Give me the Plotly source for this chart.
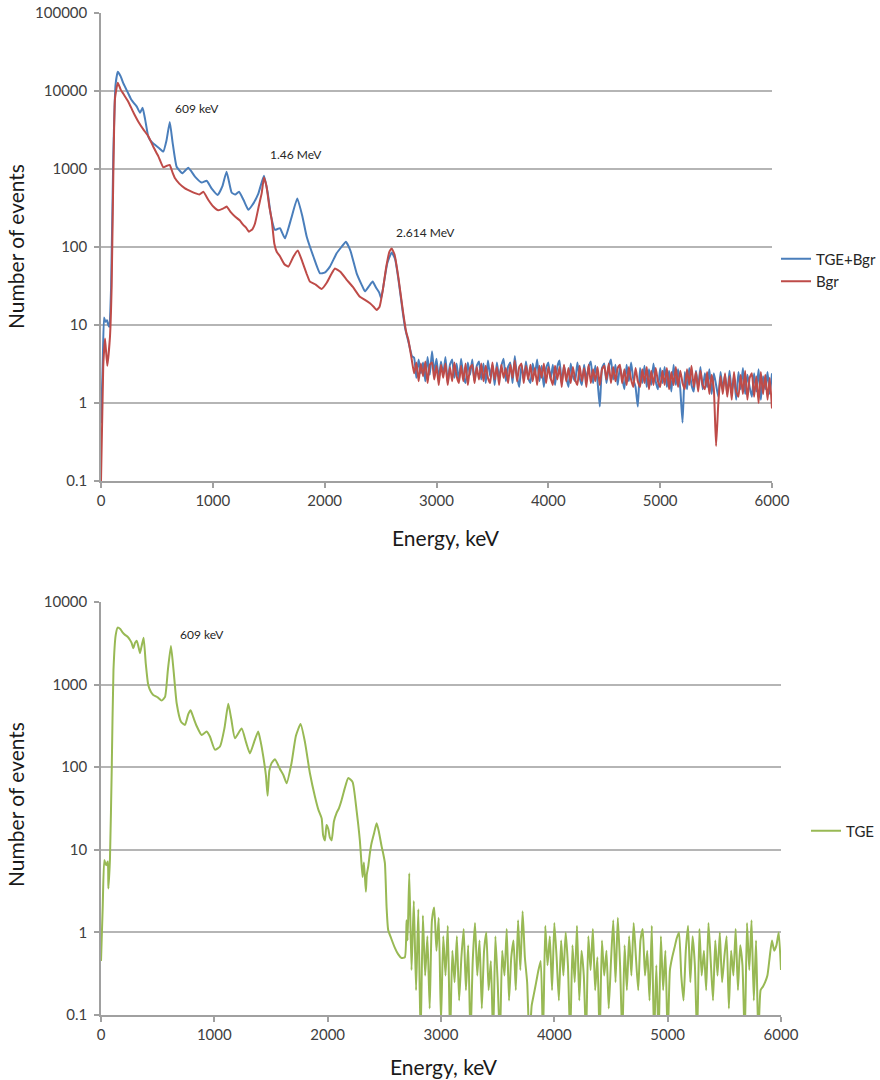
import math
import plotly.graph_objects as go

# ---------------- data ----------------
# Top panel: TGE+Bgr (blue) main part
blue_e = [0, 15, 27, 40, 54, 65, 75, 90, 110, 130, 150, 175, 200, 244, 270, 298, 320, 349, 372, 395,
          423, 450, 483, 520, 557, 585, 615, 640, 676, 727, 781, 840, 900, 945, 990, 1043, 1085, 1123,
          1168, 1200, 1234, 1275, 1317, 1350, 1406, 1457, 1490, 1520, 1556, 1600, 1645, 1700, 1755,
          1800, 1839, 1900, 1958, 2000, 2047, 2107, 2150, 2190, 2230, 2286, 2330, 2360, 2400, 2429,
          2460, 2488, 2505, 2530, 2560, 2599, 2630, 2660, 2700, 2720, 2750, 2780]
blue_v = [0.55, 3, 12.5, 11, 11.5, 10, 9.5, 30, 1500, 12000, 17700, 15500, 12500, 9300, 7800, 6900, 6300,
          5250, 6100, 4300, 2600, 2250, 2040, 1850, 1670, 2300, 4000, 2200, 1070, 880, 1040, 800, 670,
          707, 560, 465, 600, 925, 500, 470, 510, 400, 300, 340, 480, 820, 500, 250, 166, 174, 129, 230,
          420, 250, 136, 75, 46, 47, 56, 83, 100, 117, 90, 46, 33, 27, 32, 36, 30, 26, 22, 35, 62, 85,
          70, 38, 14, 9, 6, 4]

# Top panel: Bgr (red) main part
red_e = [0, 20, 36, 56, 80, 95, 110, 125, 150, 175, 200, 244, 290, 334, 380, 423, 470, 513, 557, 590,
         614, 640, 662, 700, 751, 800, 840, 880, 915, 960, 1004, 1049, 1090, 1123, 1160, 1198, 1240,
         1272, 1300, 1323, 1355, 1377, 1410, 1437, 1457, 1480, 1505, 1526, 1550, 1571, 1600, 1640,
         1675, 1720, 1760, 1800, 1840, 1868, 1920, 1973, 2020, 2060, 2092, 2140, 2197, 2250, 2315,
         2360, 2405, 2440, 2464, 2490, 2520, 2550, 2580, 2599, 2625, 2660, 2703, 2730, 2748, 2780]
red_v = [0.1, 3, 6.7, 3, 7, 30, 800, 8000, 12800, 10500, 9200, 7300, 5300, 4040, 3200, 2630, 1900, 1450,
         1050, 1100, 1130, 900, 760, 650, 565, 520, 490, 470, 510, 400, 330, 295, 310, 330, 280, 246, 220,
         192, 175, 157, 170, 200, 330, 490, 780, 600, 330, 225, 110, 87, 76, 60, 56, 75, 90, 65, 45, 36,
         33, 29, 35, 45, 53, 48, 38, 31, 23, 21, 19, 17, 15.6, 17, 28, 55, 88, 96, 80, 40, 14, 8, 6.5, 3.5]

# Top panel noisy tail, energies 2800..6000 keV every 20 keV
tail_e = list(range(2800, 6001, 20))
blue_tail = [3.8, 2.1, 3.6, 2.4, 3.3, 1.9, 3.9, 2.3, 4.6, 2.5, 3.7,
             2.0, 3.4, 2.3, 3.9, 1.8, 3.1, 3.6, 2.1, 3.2, 1.9,
             3.7, 2.2, 1.8, 3.3, 2.3, 3.6, 1.9, 3.0, 3.4, 2.0,
             3.2, 1.8, 3.5, 2.2, 3.1, 1.7, 3.3, 2.1, 3.0, 3.7,
             1.9, 2.9, 3.3, 1.8, 4.0, 2.2, 1.6, 3.1, 2.0, 3.4,
             2.1, 1.8, 3.2, 2.3, 3.6, 1.9, 3.0, 1.6, 2.8, 3.3,
             2.0, 3.1, 1.7, 2.9, 3.5, 1.8, 3.0, 2.1, 1.6, 3.2,
             2.2, 1.9, 3.3, 2.1, 1.7, 3.1, 2.0, 2.9, 3.4, 1.8,
             3.0, 1.9, 0.9, 2.8, 3.2, 1.8, 2.9, 3.6, 2.0, 3.1,
             1.7, 2.9, 2.1, 1.5, 3.1, 1.9, 3.3, 2.0, 1.6, 0.9,
             2.8, 1.8, 3.0, 1.6, 2.7, 1.7, 3.2, 1.9, 1.5, 2.8,
             1.8, 2.9, 1.6, 2.6, 1.4, 3.1, 1.7, 2.7, 1.5, 0.56,
             2.5, 1.5, 2.8, 1.7, 1.4, 2.6, 1.6, 2.9, 1.5, 2.4,
             1.6, 2.7, 1.3, 2.4, 1.7, 1.2, 2.5, 1.5, 2.3, 1.3,
             2.6, 1.4, 2.2, 1.1, 2.5, 1.5, 2.8, 1.3, 2.3, 1.6,
             1.2, 2.4, 1.4, 2.7, 1.1, 2.2, 1.5, 2.5, 1.3, 2.4]
red_tail = [2.4, 3.3, 1.9, 3.2, 2.2, 3.4, 1.8, 3.1, 3.3, 2.0, 3.0,
            1.7, 3.1, 2.1, 3.2, 1.7, 2.9, 1.9, 3.3, 2.2, 1.8,
            3.0, 1.9, 3.2, 1.7, 2.8, 3.1, 1.8, 2.9, 2.0, 3.2,
            1.9, 3.0, 2.1, 1.8, 3.3, 2.0, 2.9, 1.7, 3.1, 2.1,
            2.8, 1.8, 3.1, 2.1, 3.5, 1.9, 2.9, 3.2, 1.8, 3.0,
            2.0, 3.1, 1.9, 2.8, 1.7, 3.0, 2.1, 3.2, 1.8, 2.9,
            2.1, 1.7, 3.0, 2.0, 2.9, 1.6, 3.1, 1.9, 2.8, 1.8,
            2.9, 2.0, 1.7, 3.0, 1.9, 2.8, 1.6, 3.1, 1.8, 2.7,
            1.9, 2.9, 1.7, 2.7, 3.0, 2.0, 3.2, 1.8, 2.9, 1.9,
            2.8, 3.1, 1.8, 2.7, 1.7, 2.9, 2.0, 1.6, 2.8, 1.9,
            1.6, 2.7, 1.8, 2.9, 1.5, 2.6, 1.7, 2.8, 1.9, 1.6,
            2.6, 1.7, 2.8, 1.5, 2.5, 1.7, 2.9, 1.6, 2.6, 1.8,
            1.5, 2.7, 1.7, 3.0, 1.6, 2.5, 1.4, 2.6, 1.7, 1.5,
            2.5, 1.3, 2.3, 1.5, 0.28, 1.0, 2.2, 1.3, 2.4, 1.2,
            2.2, 1.1, 2.5, 1.4, 1.2, 2.3, 1.3, 2.6, 1.1, 2.1,
            2.4, 1.2, 2.2, 1.0, 2.5, 1.3, 2.3, 1.1, 2.1, 0.85]

# Bottom panel: TGE (green) main part
green_e = [0, 15, 29, 45, 60, 65, 79, 95, 110, 130, 147, 170, 190, 212, 235, 256, 270, 285, 300, 315,
           330, 344, 360, 376, 395, 417, 440, 461, 500, 535, 565, 590, 617, 640, 668, 706, 741, 770,
           791, 815, 844, 888, 932, 961, 1005, 1050, 1090, 1123, 1150, 1182, 1241, 1280, 1314, 1350,
           1387, 1410, 1432, 1455, 1470, 1485, 1505, 1535, 1579, 1610, 1638, 1680, 1720, 1761, 1800,
           1843, 1888, 1920, 1947, 1960, 1976, 1990, 2005, 2020, 2035, 2055, 2079, 2100, 2123, 2150,
           2182, 2220, 2255, 2270, 2284, 2295, 2308, 2320, 2337, 2345, 2358, 2372, 2387, 2410, 2432,
           2450, 2476, 2490, 2505, 2520, 2534, 2560, 2593, 2620, 2652, 2681, 2696, 2705]
green_v = [0.45, 2, 7.5, 6.5, 7.2, 3.4, 7.7, 100, 1500, 4000, 4900, 4700, 4300, 4000, 3800, 3470, 3200,
           2750, 3200, 3400, 2900, 2400, 3000, 3700, 1800, 990, 820, 750, 700, 640, 710, 1500, 2940,
           1500, 590, 355, 325, 440, 490, 400, 315, 245, 270, 235, 163, 178, 300, 585, 380, 224, 294,
           200, 147, 200, 270, 200, 134, 80, 45, 90, 112, 125, 95, 80, 64, 110, 240, 333, 200, 85, 44,
           30, 24, 15, 13, 20, 18, 14, 13, 22, 28, 32, 40, 55, 74, 66, 30, 20, 13, 8, 4.7, 7, 3.1, 5,
           6.3, 9, 12, 16, 21, 17, 11, 9, 6.9, 2.0, 1.07, 0.85, 0.65, 0.55, 0.49, 0.5, 1.4, 0.8]

# Bottom panel noisy tail, energies 2720..6000 keV every 20 keV
green_tail_e = list(range(2720, 6001, 20))
green_tail = [5.2, 0.35, 2.4, 0.2, 1.9, 0.05, 1.6, 0.3, 0.9, 0.12,
              1.4, 2.0, 0.6, 1.5, 0.08, 0.9, 0.3, 1.2, 0.05, 0.6,
              0.25, 0.9, 0.15, 0.5, 1.1, 0.2, 0.7, 0.05, 0.45, 1.3,
              0.3, 0.8, 0.12, 0.6, 1.0, 0.2, 0.45, 0.05, 0.9, 0.25,
              0.05, 0.6, 0.3, 1.1, 0.15, 0.5, 0.8, 0.2, 1.4, 0.35,
              1.8, 0.5, 0.25, 0.05, 0.13, 0.18, 0.25, 0.35, 0.45, 0.05,
              1.2, 0.4, 0.9, 0.2, 1.3, 0.5, 0.15, 0.8, 0.3, 1.0,
              0.4, 0.05, 0.7, 0.25, 1.2, 0.15, 0.6, 0.3, 0.05, 0.9,
              0.35, 1.1, 0.2, 0.5, 0.05, 0.8, 0.3, 0.6, 0.12, 0.45,
              1.4, 0.25, 1.5, 0.4, 0.05, 0.7, 0.2, 0.9, 0.3, 1.3,
              0.5, 0.2, 0.8, 1.1, 0.3, 0.6, 0.15, 1.2, 0.05, 0.4,
              0.05, 0.9, 0.2, 0.6, 0.05, 0.35, 0.5, 0.65, 0.85, 1.0,
              0.3, 0.15, 0.6, 1.2, 0.25, 0.9, 0.4, 0.05, 1.1, 0.3,
              0.6, 0.2, 1.3, 0.45, 0.15, 0.8, 0.3, 1.0, 0.25, 0.5,
              0.9, 0.12, 0.6, 0.3, 1.1, 0.2, 0.7, 0.4, 0.05, 1.3,
              0.35, 1.4, 0.15, 0.8, 0.05, 0.2, 0.22, 0.25, 0.3, 0.5,
              0.8, 0.6, 0.7, 1.0, 0.35]

x_ticks = [0, 1000, 2000, 3000, 4000, 5000, 6000]
y_ticks_top = [0.1, 1, 10, 100, 1000, 10000, 100000]
y_ticks_bottom = [0.1, 1, 10, 100, 1000, 10000]
peak_labels_top = [("609 keV", 858, 5900), ("1.46 MeV", 1743, 1550), ("2.614 MeV", 2905, 155)]
peak_labels_bottom = [("609 keV", 895, 4070)]

# ---------------- figure ----------------
W, H = 880, 1080
FONT = "Lato"
GRID = "#b5b5b5"
AXIS = "#a0a0a0"


def px_x(p):
    return p / W


def px_y(p):
    return 1 - p / H


fig = go.Figure()
fig.add_trace(go.Scatter(x=blue_e + tail_e, y=blue_v + blue_tail, mode="lines", name="TGE+Bgr",
                         line=dict(color="#4a7ebb", width=2, shape="spline", smoothing=0.4),
                         xaxis="x", yaxis="y", legend="legend"))
fig.add_trace(go.Scatter(x=red_e + tail_e, y=red_v + red_tail, mode="lines", name="Bgr",
                         line=dict(color="#be4b48", width=2, shape="spline", smoothing=0.4),
                         xaxis="x", yaxis="y", legend="legend"))
fig.add_trace(go.Scatter(x=green_e + green_tail_e, y=green_v + green_tail, mode="lines", name="TGE",
                         line=dict(color="#98b954", width=2, shape="spline", smoothing=0.5),
                         xaxis="x2", yaxis="y2", legend="legend2"))

common_x = dict(range=[0, 6000], tickvals=x_ticks, ticktext=[str(v) for v in x_ticks],
                showgrid=False, zeroline=False, showline=True, linecolor=AXIS, linewidth=1.5,
                ticks="outside", ticklen=5, tickcolor=AXIS, tickwidth=1.5, automargin=False,
                tickfont=dict(family=FONT, size=15, color="#404040"), ticklabelstandoff=0)
common_y = dict(type="log", showgrid=True, gridcolor=GRID, gridwidth=1.5, zeroline=False,
                showline=True, linecolor=AXIS, linewidth=1.5, ticks="outside", ticklen=5,
                tickcolor=AXIS, tickwidth=1.5, automargin=False,
                tickfont=dict(family=FONT, size=15, color="#404040"), ticklabelstandoff=4)

fig.update_layout(
    width=W, height=H, margin=dict(l=0, r=0, t=0, b=0, autoexpand=False),
    paper_bgcolor="white", plot_bgcolor="white",
    xaxis=dict(domain=[px_x(101), px_x(772)], anchor="y", **common_x),
    yaxis=dict(domain=[px_y(481), px_y(13)], anchor="x", range=[-1, 5],
               tickvals=y_ticks_top, ticktext=[f"{v:g}" for v in y_ticks_top], **common_y),
    xaxis2=dict(domain=[px_x(101), px_x(781)], anchor="y2", **common_x),
    yaxis2=dict(domain=[px_y(1015), px_y(602)], anchor="x2", range=[-1, 4],
                tickvals=y_ticks_bottom, ticktext=[f"{v:g}" for v in y_ticks_bottom], **common_y),
    legend=dict(x=px_x(776), y=px_y(270), xanchor="left", yanchor="middle",
                font=dict(family=FONT, size=15, color="#262626"), bgcolor="rgba(0,0,0,0)",
                tracegroupgap=0),
    legend2=dict(x=px_x(806), y=px_y(831), xanchor="left", yanchor="middle",
                 font=dict(family=FONT, size=15, color="#262626"), bgcolor="rgba(0,0,0,0)"),
    showlegend=True,
)

annotations = []
for text, e, v in peak_labels_top:
    annotations.append(dict(text=text, x=e, y=math.log10(v), xref="x", yref="y",
                            xanchor="center", yanchor="middle", showarrow=False,
                            font=dict(family=FONT, size=12, color="#262626")))
for text, e, v in peak_labels_bottom:
    annotations.append(dict(text=text, x=e, y=math.log10(v), xref="x2", yref="y2",
                            xanchor="center", yanchor="middle", showarrow=False,
                            font=dict(family=FONT, size=12, color="#262626")))

title_font = dict(family=FONT, size=21, color="#1a1a1a")
axis_titles = [("Number of events", 15, 247, -90), ("Energy, keV", 446, 537, 0),
               ("Number of events", 15, 805, -90), ("Energy, keV", 444, 1066, 0)]
for text, xp, yp, ang in axis_titles:
    annotations.append(dict(text=text, x=px_x(xp), y=px_y(yp), xref="paper", yref="paper",
                            xanchor="center", yanchor="middle", textangle=ang,
                            showarrow=False, font=title_font))
fig.update_layout(annotations=annotations)

# remove the browser's default 8px body margin so the figure sits at the page origin
fig.write_html("out.html", config={"displayModeBar": False},
               post_script="document.body.style.margin='0px';")
